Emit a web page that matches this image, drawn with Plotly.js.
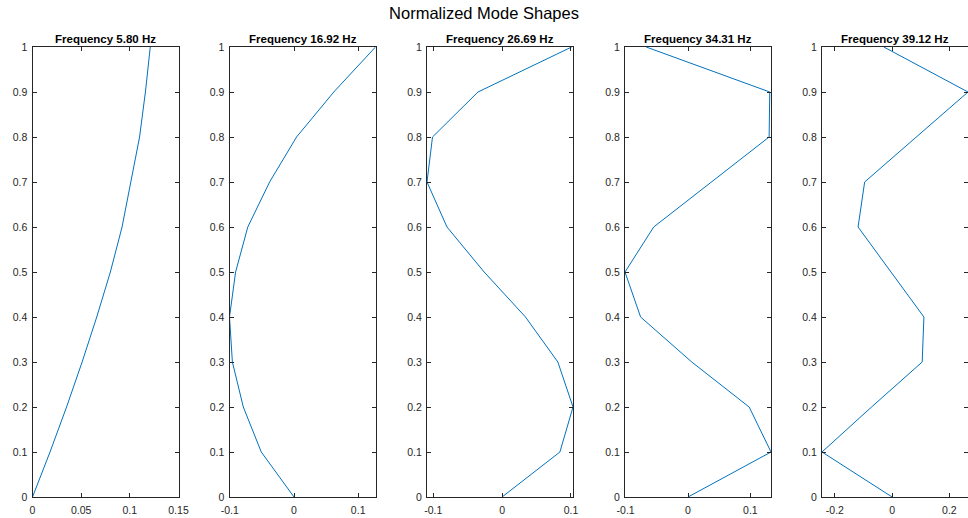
<!DOCTYPE html>
<html>
<head>
<meta charset="utf-8">
<script src="https://cdn.plot.ly/plotly-3.0.1.min.js"></script>
<style>html,body{margin:0;padding:0;background:#fff;}#chart{width:968px;height:518px;}</style>
</head>
<body>
<div id="chart"></div>
<script>
// Data
const heights = [0, 0.1, 0.2, 0.3, 0.4, 0.5, 0.6, 0.7, 0.8, 0.9, 1.0];
const frequencies = ["5.80", "16.92", "26.69", "34.31", "39.12"];
const mode1 = [0, 0.018, 0.035, 0.051, 0.066, 0.080, 0.092, 0.101, 0.110, 0.116, 0.121];
const mode2 = [0, -0.051, -0.079, -0.096, -0.1005, -0.091, -0.072, -0.038, 0.004, 0.062, 0.127];
const mode3 = [0, 0.084, 0.103, 0.081, 0.034, -0.026, -0.080, -0.109, -0.101, -0.035, 0.101];
const mode4 = [0, 0.133, 0.098, 0.006, -0.076, -0.101, -0.055, 0.038, 0.130, 0.131, -0.067];
const mode5 = [0, -0.245, -0.072, 0.105, 0.111, -0.004, -0.119, -0.096, 0.085, 0.265, -0.029];
const modes = [mode1, mode2, mode3, mode4, mode5];

const xTickVals = [[0, 0.05, 0.1, 0.15], [-0.1, 0, 0.1], [-0.1, 0, 0.1], [-0.1, 0, 0.1], [-0.2, 0, 0.2]];
const xTickText = [["0", "0.05", "0.1", "0.15"], ["-0.1", "0", "0.1"], ["-0.1", "0", "0.1"], ["-0.1", "0", "0.1"], ["-0.2", "0", "0.2"]];
const yTickVals = [0, 0.1, 0.2, 0.3, 0.4, 0.5, 0.6, 0.7, 0.8, 0.9, 1];
const yTickText = ["0", "0.1", "0.2", "0.3", "0.4", "0.5", "0.6", "0.7", "0.8", "0.9", "1"];

const W = 968;
const lefts = [32.5, 229.5, 427, 625, 822];
const plotW = 146;

const axColor = '#262626';
const font = 'Liberation Sans, Arial, Helvetica, sans-serif';

const traces = [];
const layout = {
  width: 968, height: 518,
  margin: {l: 0, r: 0, t: 47, b: 21, pad: 0},
  paper_bgcolor: '#fff', plot_bgcolor: '#fff',
  showlegend: false,
  font: {family: font, size: 10, color: axColor},
  title: {text: 'Normalized Mode Shapes', font: {family: font, size: 16.5, color: '#000'}, x: 0.5, xanchor: 'center', y: 0.985, yanchor: 'top', yref: 'container'},
  annotations: []
};

modes.forEach((m, i) => {
  const n = i + 1;
  const xa = n === 1 ? 'x' : 'x' + n;
  const ya = n === 1 ? 'y' : 'y' + n;
  traces.push({x: m, y: heights, type: 'scatter', mode: 'lines', xaxis: xa, yaxis: ya,
    line: {color: '#0072BD', width: 1}, hoverinfo: 'skip'});
  const range = i === 0 ? [0, 0.15] : [Math.min(...m), Math.max(...m)];
  const axCommon = {showline: true, linecolor: axColor, linewidth: 1, mirror: 'ticks', ticks: 'inside',
    ticklen: 4, tickcolor: axColor, tickwidth: 1, showgrid: false, zeroline: false,
    tickfont: {family: font, size: 10.5, color: axColor}, fixedrange: true};
  layout['xaxis' + (n === 1 ? '' : n)] = Object.assign({}, axCommon, {
    domain: [lefts[i] / W, Math.min(1, (lefts[i] + plotW) / W)], range: range, anchor: ya,
    ticklabelstandoff: 3,
    tickmode: 'array', tickvals: xTickVals[i], ticktext: xTickText[i]});
  layout['yaxis' + (n === 1 ? '' : n)] = Object.assign({}, axCommon, {
    domain: [0, 1], range: [0, 1], anchor: xa, ticklabelstandoff: 2,
    tickmode: 'array', tickvals: yTickVals, ticktext: yTickText});
  layout.annotations.push({text: '<b>Frequency ' + frequencies[i] + ' Hz</b>', xref: xa + ' domain', yref: 'paper',
    x: 0.5, y: 1, xanchor: 'center', yanchor: 'bottom', yshift: 0, showarrow: false,
    font: {family: font, size: 11.5, color: '#000'}});
});

Plotly.newPlot('chart', traces, layout, {displayModeBar: false, staticPlot: true});
</script>
</body>
</html>
